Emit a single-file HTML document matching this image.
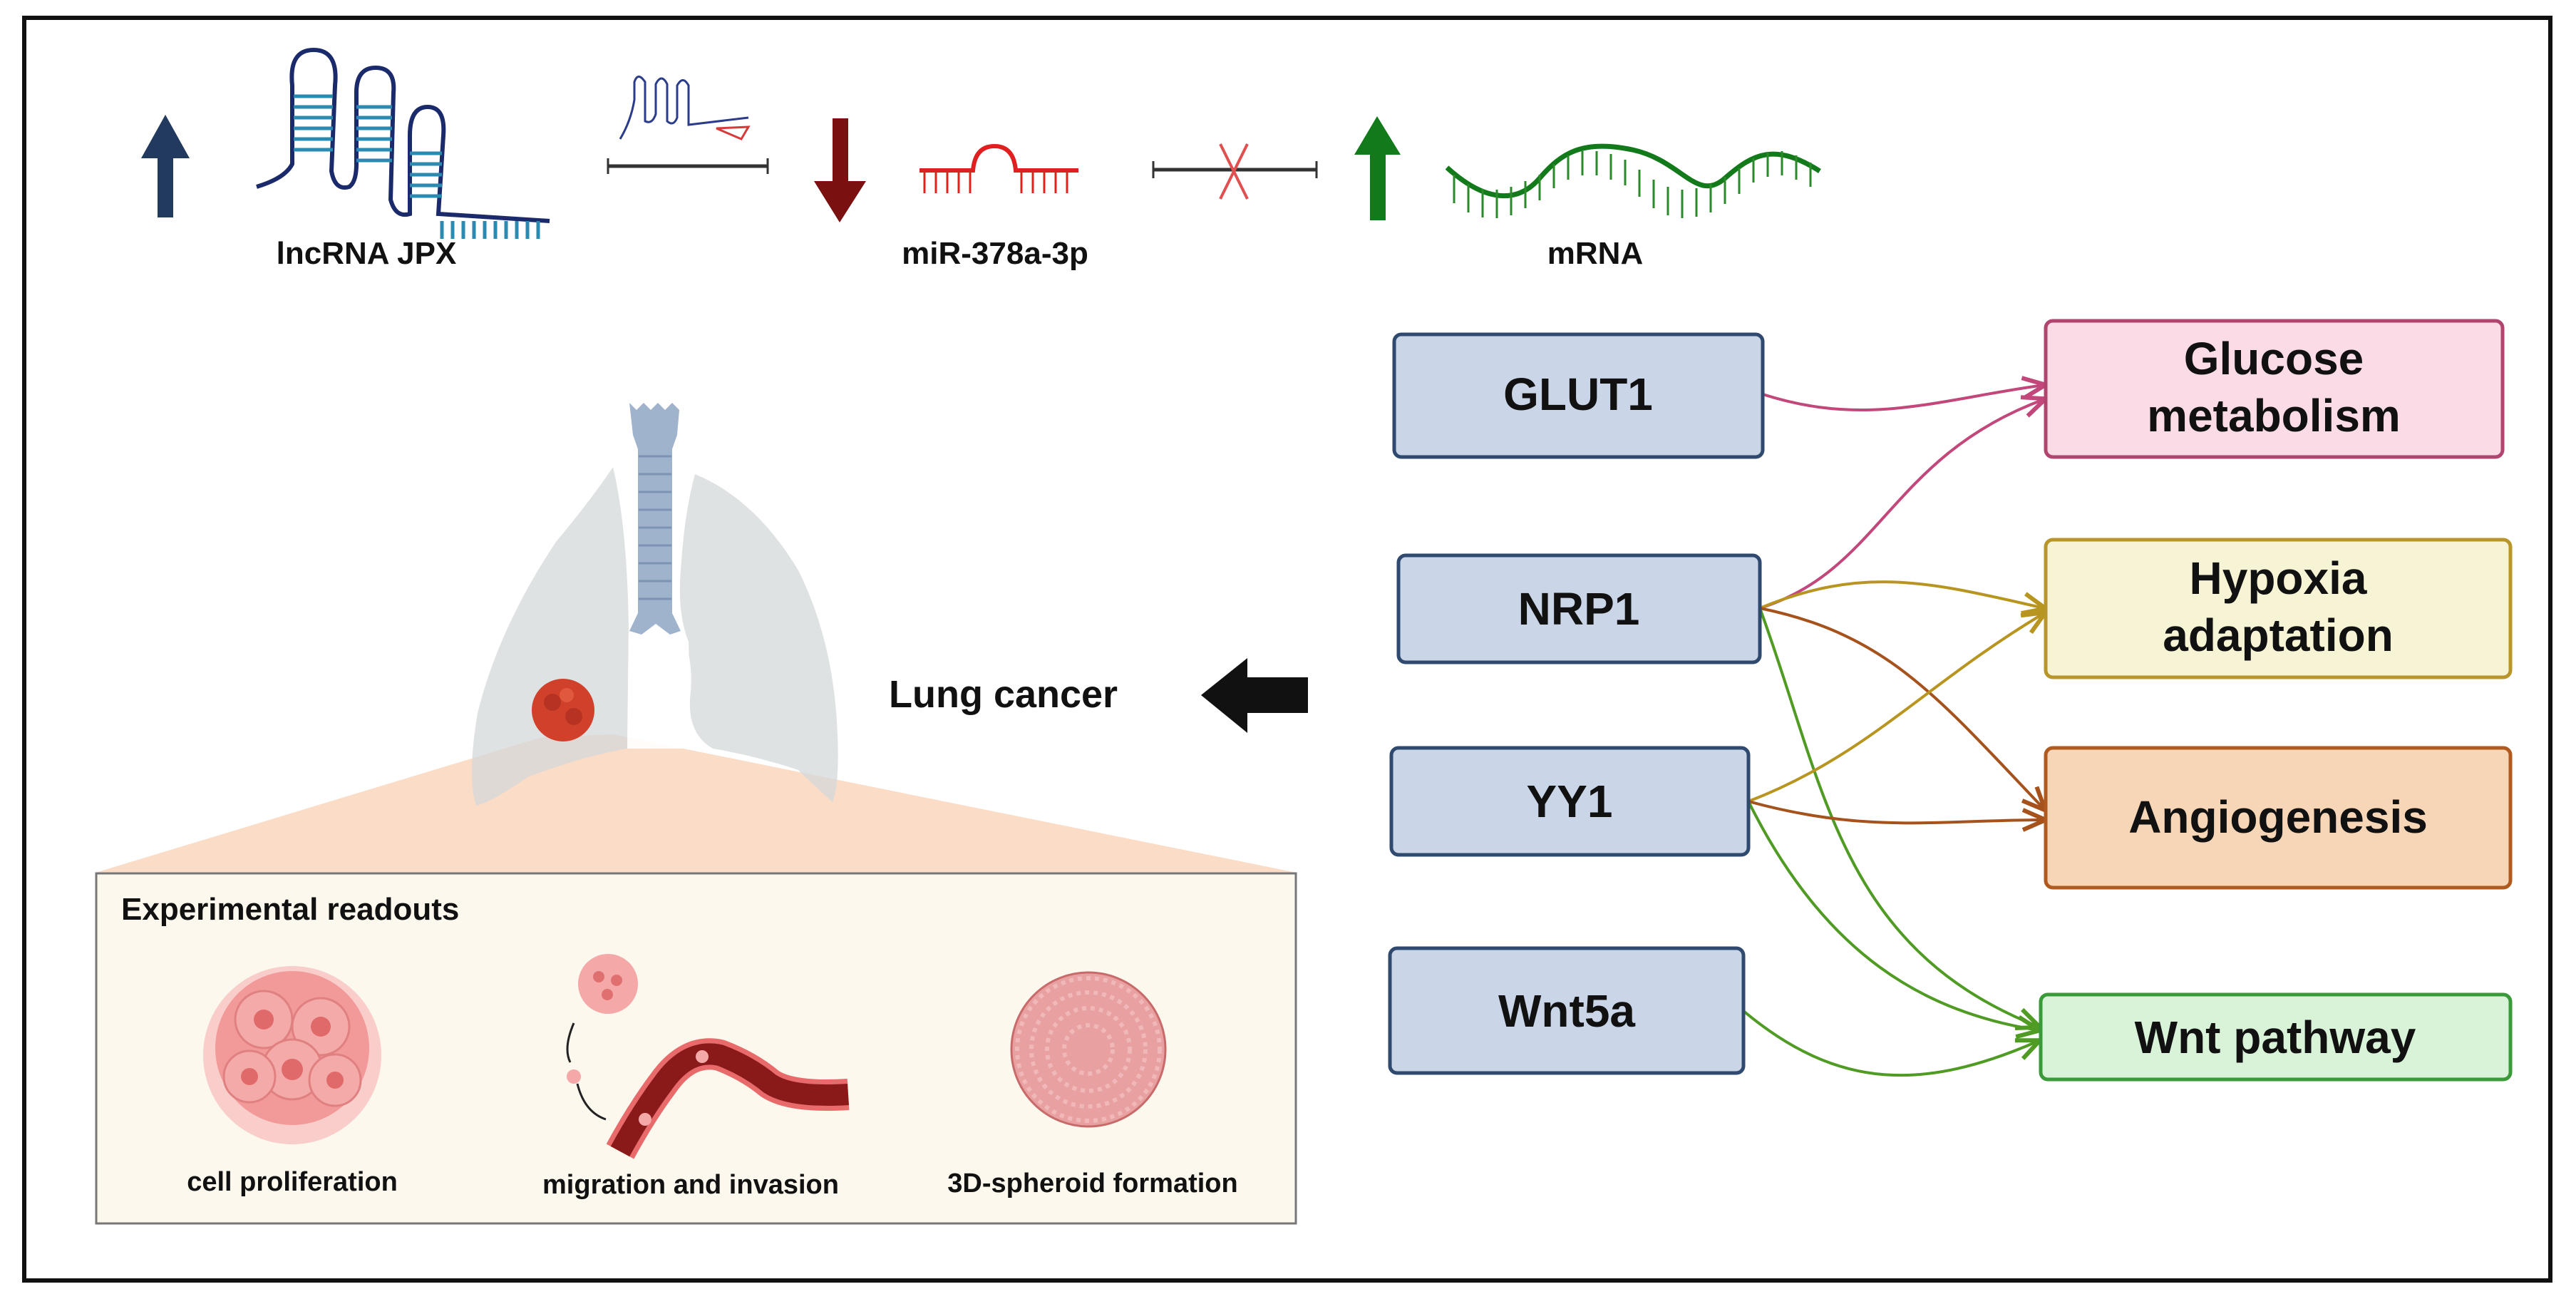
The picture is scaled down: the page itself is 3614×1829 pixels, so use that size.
<!DOCTYPE html>
<html><head><meta charset="utf-8">
<style>
html,body{margin:0;padding:0;background:#fff;}
svg{display:block;}
text{font-family:"Liberation Sans",sans-serif;font-weight:bold;fill:#111;}
</style></head>
<body>
<svg width="3614" height="1829" viewBox="0 0 3614 1829" xmlns="http://www.w3.org/2000/svg">
<defs>
<marker id="mG" markerWidth="40" markerHeight="40" refX="34" refY="20" orient="auto" markerUnits="userSpaceOnUse"><path d="M4,6 L36,20 L4,34" fill="none" stroke="#b89520" stroke-width="6"/></marker>
<marker id="mB" markerWidth="40" markerHeight="40" refX="34" refY="20" orient="auto" markerUnits="userSpaceOnUse"><path d="M4,6 L36,20 L4,34" fill="none" stroke="#a5521c" stroke-width="6"/></marker>
<marker id="mN" markerWidth="40" markerHeight="40" refX="34" refY="20" orient="auto" markerUnits="userSpaceOnUse"><path d="M4,6 L36,20 L4,34" fill="none" stroke="#4f9b23" stroke-width="6"/></marker>
<marker id="mP" markerWidth="40" markerHeight="40" refX="34" refY="20" orient="auto" markerUnits="userSpaceOnUse"><path d="M4,6 L36,20 L4,34" fill="none" stroke="#c2477a" stroke-width="6"/></marker>
</defs>
<rect x="0" y="0" width="3614" height="1829" fill="#fff"/>
<rect x="34" y="25" width="3544" height="1771" fill="none" stroke="#111" stroke-width="6"/>

<!-- top row -->
<rect x="221" y="220" width="22" height="85" fill="#213a5e"/>
<polygon points="198,222 232,161 266,222" fill="#213a5e"/>
<g fill="none" stroke="#1b2a6b" stroke-width="6">
<path d="M360,262 Q400,250 410,230 L410,120 Q405,70 440,70 Q475,70 470,120 L465,240 Q470,268 490,262 Q500,255 500,230 L500,130 Q500,95 527,95 Q555,95 552,130 L548,280 Q555,306 575,300 L575,190 Q575,150 600,150 Q625,150 622,190 L615,300 L771,310"/>
</g>
<g stroke="#2b8ab0" stroke-width="5">
<path d="M412,135h55 M412,150h55 M412,165h55 M412,180h55 M412,195h55 M412,210h55 M500,150h50 M500,165h50 M500,180h50 M500,195h50 M500,210h50 M500,225h50 M575,215h45 M575,230h45 M575,245h45 M575,260h45 M575,275h45 M620,310v25 M635,310v25 M650,310v25 M665,310v25 M680,310v25 M695,310v25 M710,310v25 M725,310v25 M740,310v25 M755,310v25"/>
</g>
<text x="514" y="370" font-size="44" text-anchor="middle">lncRNA JPX</text>
<g fill="none" stroke="#2a3c8a" stroke-width="3">
<path d="M870,195 Q885,170 890,140 L890,115 Q895,100 905,115 L905,170 Q915,175 920,160 L920,118 Q928,102 936,118 L936,170 Q945,178 950,165 L950,120 Q958,105 966,120 L966,175 L1050,165"/>
</g>
<path d="M1005,180 L1050,178 L1040,195 Z" fill="none" stroke="#d83a3a" stroke-width="3"/>
<line x1="853" y1="233" x2="1077" y2="233" stroke="#333" stroke-width="5"/>
<line x1="853" y1="222" x2="853" y2="244" stroke="#333" stroke-width="3"/>
<line x1="1077" y1="222" x2="1077" y2="244" stroke="#333" stroke-width="3"/>
<rect x="1168" y="166" width="22" height="90" fill="#7a1010"/>
<polygon points="1142,254 1215,254 1178,312" fill="#7a1010"/>
<g fill="none" stroke="#e02020" stroke-width="6">
<path d="M1290,239 L1365,239 Q1368,205 1395,205 Q1422,205 1425,239 L1513,239"/>
</g>
<g stroke="#e02020" stroke-width="3">
<path d="M1297,239v32 M1313,239v32 M1329,239v32 M1345,239v32 M1361,239v32 M1433,239v32 M1449,239v32 M1465,239v32 M1481,239v32 M1497,239v32"/>
</g>
<text x="1396" y="370" font-size="44" text-anchor="middle">miR-378a-3p</text>
<line x1="1618" y1="238" x2="1847" y2="238" stroke="#333" stroke-width="5"/>
<line x1="1618" y1="226" x2="1618" y2="250" stroke="#333" stroke-width="3"/>
<line x1="1847" y1="226" x2="1847" y2="250" stroke="#333" stroke-width="3"/>
<path d="M1712,202 L1750,279 M1750,202 L1712,279" stroke="#e05050" stroke-width="4"/>
<rect x="1922" y="215" width="22" height="94" fill="#137a1b"/>
<polygon points="1900,217 1932,163 1965,217" fill="#137a1b"/>
<path d="M2030,235 C2085,285 2130,285 2160,250 S2220,195 2290,210 S2380,285 2420,250 S2490,200 2553,240" fill="none" stroke="#137a1b" stroke-width="7"/>
<g stroke="#2a8a2a" stroke-width="3">
<path d="M2040,245v40 M2060,258v40 M2080,265v40 M2100,266v40 M2120,262v40 M2140,254v38 M2160,245v36 M2180,230v34 M2200,218v34 M2220,212v34 M2240,212v34 M2260,216v36 M2280,224v36 M2300,238v38 M2320,252v40 M2340,262v40 M2360,266v40 M2380,264v40 M2400,258v40 M2420,248v38 M2440,236v36 M2460,222v34 M2480,214v34 M2500,212v34 M2520,218v34 M2540,228v34"/>
</g>
<text x="2238" y="370" font-size="44" text-anchor="middle">mRNA</text>

<polygon points="760,1034 860,1030 1819,1224 134,1224" fill="#fbdcc7"/>
<path d="M860,655 Q830,700 780,760 Q700,880 670,1000 Q655,1090 668,1130 Q690,1125 740,1090 Q820,1060 880,1050 L882,880 Q880,740 860,655 Z" fill="#d4d8da" opacity="0.75"/>
<path d="M975,665 Q1060,700 1120,800 Q1170,900 1175,1030 Q1178,1100 1168,1125 Q1140,1100 1120,1080 Q1060,1060 1000,1050 Q965,1030 968,980 L966,900 Q950,860 955,800 Q960,720 975,665 Z" fill="#d4d8da" opacity="0.75"/>
<path d="M882,880 Q900,900 920,905 Q945,900 955,880 Q975,930 968,980 Q965,1030 1000,1050 L880,1050 Z" fill="#fff" opacity="0.9"/>
<path d="M883,565 L893,575 L903,565 L913,575 L923,565 L933,575 L943,565 L953,575 L950,610 L943,630 L943,860 L955,885 L940,890 L920,875 L900,890 L883,885 L895,860 L895,630 L888,610 Z" fill="#9fb3cd"/>
<g stroke="#7d93b3" stroke-width="3"><path d="M896,640h46 M896,665h46 M896,690h46 M896,715h46 M896,740h46 M896,765h46 M896,790h46 M896,815h46 M896,840h46"/></g>
<circle cx="790" cy="996" r="44" fill="#d0402a"/>
<circle cx="775" cy="985" r="12" fill="#b63323"/><circle cx="805" cy="1005" r="12" fill="#b63323"/><circle cx="795" cy="975" r="10" fill="#e0583e"/>

<text x="1247" y="992" font-size="54">Lung cancer</text>
<rect x="1745" y="950" width="90" height="50" fill="#111"/>
<polygon points="1685,975 1750,923 1750,1028" fill="#111"/>

<rect x="135" y="1225" width="1683" height="491" fill="#fdf8ee" stroke="#777" stroke-width="3"/>
<text x="170" y="1290" font-size="44">Experimental readouts</text>
<g>
<circle cx="410" cy="1480" r="125" fill="#f7b3b3" opacity="0.6"/>
<circle cx="410" cy="1470" r="108" fill="#f29a9a"/>
<circle cx="370" cy="1430" r="40" fill="#f5aaaa" stroke="#e08080" stroke-width="3"/>
<circle cx="450" cy="1440" r="40" fill="#f5aaaa" stroke="#e08080" stroke-width="3"/>
<circle cx="410" cy="1500" r="42" fill="#f5aaaa" stroke="#e08080" stroke-width="3"/>
<circle cx="350" cy="1510" r="36" fill="#f5aaaa" stroke="#e08080" stroke-width="3"/>
<circle cx="470" cy="1515" r="36" fill="#f5aaaa" stroke="#e08080" stroke-width="3"/>
<circle cx="370" cy="1430" r="14" fill="#e06a6a"/><circle cx="450" cy="1440" r="14" fill="#e06a6a"/><circle cx="410" cy="1500" r="15" fill="#e06a6a"/><circle cx="350" cy="1510" r="12" fill="#e06a6a"/><circle cx="470" cy="1515" r="12" fill="#e06a6a"/>
</g>
<text x="410" y="1670" font-size="38" text-anchor="middle">cell proliferation</text>
<circle cx="853" cy="1380" r="42" fill="#f5a8a8"/>
<circle cx="840" cy="1370" r="8" fill="#e07070"/><circle cx="865" cy="1375" r="8" fill="#e07070"/><circle cx="852" cy="1395" r="8" fill="#e07070"/>
<path d="M805,1435 Q790,1470 800,1490 M810,1520 Q820,1560 850,1570" fill="none" stroke="#222" stroke-width="3"/>
<circle cx="805" cy="1510" r="10" fill="#f5a8a8"/>
<path d="M870,1615 Q900,1560 930,1520 Q965,1470 1010,1480 Q1050,1495 1080,1520 Q1110,1540 1190,1535" fill="none" stroke="#e86a6a" stroke-width="44"/>
<path d="M870,1615 Q900,1560 930,1520 Q965,1470 1010,1480 Q1050,1495 1080,1520 Q1110,1540 1190,1535" fill="none" stroke="#8a1a1a" stroke-width="30"/>
<circle cx="985" cy="1482" r="9" fill="#f5a8a8"/><circle cx="905" cy="1570" r="9" fill="#f5a8a8"/>
<text x="969" y="1674" font-size="38" text-anchor="middle">migration and invasion</text>
<circle cx="1527" cy="1472" r="108" fill="#e8a0a0" stroke="#c86a6a" stroke-width="3"/>
<circle cx="1527" cy="1472" r="100" fill="none" stroke="#f0b8b8" stroke-width="6" stroke-dasharray="6 6"/>
<circle cx="1527" cy="1472" r="80" fill="none" stroke="#f0b8b8" stroke-width="6" stroke-dasharray="6 6"/>
<circle cx="1527" cy="1472" r="58" fill="none" stroke="#f0b8b8" stroke-width="6" stroke-dasharray="6 6"/>
<circle cx="1527" cy="1472" r="34" fill="none" stroke="#f0b8b8" stroke-width="6" stroke-dasharray="6 6"/>
<text x="1533" y="1672" font-size="38" text-anchor="middle">3D-spheroid formation</text>

<g fill="none" stroke-width="4">
<path d="M2473,553 C2620,600 2720,560 2868,540" stroke="#c2477a" marker-end="url(#mP)"/>
<path d="M2469,853 C2640,800 2650,640 2868,560" stroke="#c2477a" marker-end="url(#mP)"/>
<path d="M2469,853 C2620,790 2720,820 2868,853" stroke="#b89520" marker-end="url(#mG)"/>
<path d="M2469,853 C2650,890 2720,980 2868,1135" stroke="#a5521c" marker-end="url(#mB)"/>
<path d="M2469,853 C2560,1100 2580,1330 2860,1440" stroke="#4f9b23" marker-end="url(#mN)"/>
<path d="M2453,1124 C2620,1060 2700,960 2868,860" stroke="#b89520" marker-end="url(#mG)"/>
<path d="M2453,1124 C2620,1170 2720,1150 2868,1150" stroke="#a5521c" marker-end="url(#mB)"/>
<path d="M2453,1124 C2560,1340 2700,1420 2860,1445" stroke="#4f9b23" marker-end="url(#mN)"/>
<path d="M2446,1418 C2580,1530 2700,1530 2860,1460" stroke="#4f9b23" marker-end="url(#mN)"/>
</g>

<g fill="#cad6e8" stroke="#2f4a6e" stroke-width="5">
<rect x="1956" y="469" width="517" height="172" rx="10"/>
<rect x="1962" y="779" width="507" height="150" rx="10"/>
<rect x="1952" y="1049" width="501" height="150" rx="10"/>
<rect x="1950" y="1330" width="496" height="175" rx="10"/>
</g>
<text x="2214" y="575" font-size="64" text-anchor="middle">GLUT1</text>
<text x="2215" y="876" font-size="64" text-anchor="middle">NRP1</text>
<text x="2202" y="1146" font-size="64" text-anchor="middle">YY1</text>
<text x="2198" y="1440" font-size="64" text-anchor="middle">Wnt5a</text>

<rect x="2870" y="450" width="641" height="191" rx="10" fill="#fadbe6" stroke="#b0466f" stroke-width="5"/>
<rect x="2870" y="757" width="652" height="193" rx="10" fill="#f7f4d6" stroke="#b8962a" stroke-width="5"/>
<rect x="2870" y="1049" width="652" height="196" rx="10" fill="#f6d6b6" stroke="#b05a20" stroke-width="5"/>
<rect x="2863" y="1395" width="659" height="119" rx="10" fill="#d9f3d9" stroke="#3a9a3a" stroke-width="5"/>
<text x="3190" y="525" font-size="64" text-anchor="middle">Glucose</text>
<text x="3190" y="605" font-size="64" text-anchor="middle">metabolism</text>
<text x="3196" y="833" font-size="64" text-anchor="middle">Hypoxia</text>
<text x="3196" y="913" font-size="64" text-anchor="middle">adaptation</text>
<text x="3196" y="1168" font-size="64" text-anchor="middle">Angiogenesis</text>
<text x="3192" y="1477" font-size="64" text-anchor="middle">Wnt pathway</text>
</svg>
</body></html>
